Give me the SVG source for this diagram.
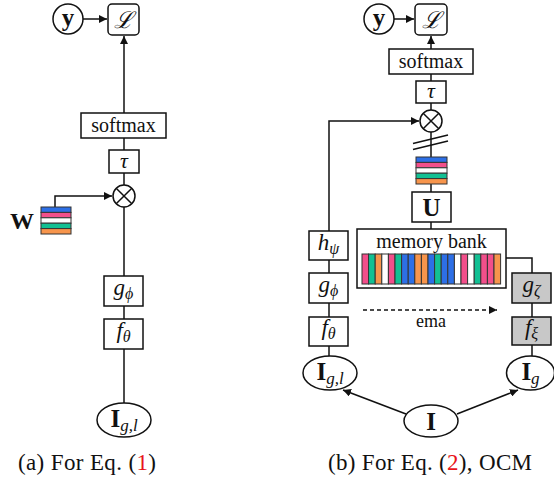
<svg xmlns="http://www.w3.org/2000/svg" width="554" height="477" viewBox="0 0 554 477">
<defs>
<marker id="ah" viewBox="0 0 10 10" refX="10" refY="5" markerWidth="8" markerHeight="8" markerUnits="userSpaceOnUse" orient="auto">
<path d="M0,0 L10,5 L0,10 z" fill="#111"/>
</marker>
</defs>
<style>
.b{fill:#fff;stroke:#111;stroke-width:1.5}
.g{fill:#c8c8c8;stroke:#111;stroke-width:1.5}
.l{fill:none;stroke:#111;stroke-width:1.5}
.t{font-family:'Liberation Serif','Times New Roman',serif;fill:#111;text-anchor:middle}
.i{font-style:italic}
.bd{font-weight:bold}
.s{stroke:#333;stroke-width:1}
.cb{fill:#2d6fe6}.cp{fill:#f24f8b}.cw{fill:#fff}.cg{fill:#12c093}.co{fill:#f7954c}
</style>

<g id="connectors">
<line class="l" x1="83" y1="19" x2="107" y2="19" marker-end="url(#ah)"/>
<line class="l" x1="124" y1="113" x2="124" y2="36" marker-end="url(#ah)"/>
<line class="l" x1="124" y1="138" x2="124" y2="150"/>
<line class="l" x1="124" y1="173" x2="124" y2="185"/>
<polyline class="l" points="55,207 55,196 112,196" marker-end="url(#ah)"/>
<line class="l" x1="124" y1="207" x2="124" y2="276"/>
<line class="l" x1="124" y1="306" x2="124" y2="319"/>
<line class="l" x1="124" y1="349" x2="124" y2="403"/>

<line class="l" x1="394" y1="19" x2="414" y2="19" marker-end="url(#ah)"/>
<line class="l" x1="431" y1="49" x2="431" y2="36" marker-end="url(#ah)"/>
<line class="l" x1="431" y1="74" x2="431" y2="81"/>
<line class="l" x1="431" y1="103" x2="431" y2="110"/>
<polyline class="l" points="329,231 329,121 419,121" marker-end="url(#ah)"/>
<line class="l" x1="431" y1="132" x2="431" y2="157"/>
<line class="l" x1="413" y1="143.5" x2="448" y2="135"/>
<line class="l" x1="413" y1="149.5" x2="448" y2="141"/>
<line class="l" x1="431" y1="184" x2="431" y2="192"/>
<line class="l" x1="431" y1="222" x2="431" y2="229"/>
<polyline class="l" points="506,258 532,258 532,273"/>
<line class="l" x1="532" y1="303" x2="532" y2="317"/>
<line class="l" x1="532" y1="345" x2="532" y2="356"/>
<line class="l" x1="329" y1="260" x2="329" y2="273"/>
<line class="l" x1="329" y1="303" x2="329" y2="317"/>
<line class="l" x1="329" y1="346" x2="329" y2="357"/>
<line class="l" x1="406" y1="414" x2="343" y2="390" marker-end="url(#ah)"/>
<line class="l" x1="457" y1="414" x2="518" y2="390" marker-end="url(#ah)"/>
<line class="l" x1="363" y1="310" x2="497" y2="310" stroke-dasharray="4,3" marker-end="url(#ah)"/>
</g>

<g id="a-y"><circle class="b" cx="68" cy="19" r="15"/><text class="t bd" x="68" y="26" font-size="25">y</text></g>
<g id="a-L"><rect class="b" x="108" y="4" width="31" height="31" rx="4"/><text class="t i" x="123.5" y="27.5" font-size="23">ℒ</text></g>
<g id="a-softmax"><rect class="b" x="81" y="113" width="85" height="25"/><text class="t" x="123.5" y="132" font-size="20">softmax</text></g>
<g id="a-tau"><rect class="b" x="109" y="150" width="30" height="23"/><text class="t i" x="124" y="167.5" font-size="22">τ</text></g>
<g id="a-otimes"><circle class="b" cx="124" cy="196" r="11"/><path class="l" d="M116.2,188.2 L131.8,203.8 M131.8,188.2 L116.2,203.8"/></g>
<g id="a-W">
<text class="t bd" x="22" y="228.5" font-size="24">W</text>
<rect class="cb s" x="41" y="207" width="30" height="5.4"/>
<rect class="cp s" x="41" y="212.4" width="30" height="5.4"/>
<rect class="cw s" x="41" y="217.8" width="30" height="5.4"/>
<rect class="cg s" x="41" y="223.2" width="30" height="5.4"/>
<rect class="co s" x="41" y="228.6" width="30" height="5.4"/>
</g>
<g id="a-g"><rect class="b" x="104" y="276" width="39" height="30"/><text class="t i" x="123.5" y="295" font-size="23">g<tspan font-size="16" dy="4">ϕ</tspan></text></g>
<g id="a-f"><rect class="b" x="104" y="319" width="39" height="30"/><text class="t i" x="123.5" y="338" font-size="23">f<tspan font-size="16" dy="4">θ</tspan></text></g>
<g id="a-I"><ellipse class="b" cx="124" cy="420" rx="27" ry="17"/><text class="t" x="124" y="427" font-size="25"><tspan class="bd">I</tspan><tspan class="i" font-size="17" dy="4">g,l</tspan></text></g>
<text class="t" x="87" y="470" font-size="23" textLength="138" lengthAdjust="spacing">(a) For Eq. (<tspan fill="#e8141a">1</tspan>)</text>

<g id="b-y"><circle class="b" cx="379" cy="19" r="15"/><text class="t bd" x="379" y="26" font-size="25">y</text></g>
<g id="b-L"><rect class="b" x="415" y="4" width="32" height="31" rx="4"/><text class="t i" x="431" y="27.5" font-size="23">ℒ</text></g>
<g id="b-softmax"><rect class="b" x="389" y="49" width="84" height="25"/><text class="t" x="431" y="68" font-size="20">softmax</text></g>
<g id="b-tau"><rect class="b" x="416" y="81" width="30" height="22"/><text class="t i" x="431" y="98" font-size="22">τ</text></g>
<g id="b-otimes"><circle class="b" cx="431" cy="121" r="11"/><path class="l" d="M423.2,113.2 L438.8,128.8 M438.8,113.2 L423.2,128.8"/></g>
<g id="b-emb">
<rect class="cb s" x="416" y="157" width="31" height="5.4"/>
<rect class="cp s" x="416" y="162.4" width="31" height="5.4"/>
<rect class="cw s" x="416" y="167.8" width="31" height="5.4"/>
<rect class="cg s" x="416" y="173.2" width="31" height="5.4"/>
<rect class="co s" x="416" y="178.6" width="31" height="5.4"/>
</g>
<g id="b-U"><rect class="b" x="412" y="192" width="39" height="30"/><text class="t bd" x="431.5" y="215.5" font-size="25">U</text></g>
<g id="b-memory">
<rect class="b" x="357" y="229" width="149" height="59"/>
<text class="t" x="431.5" y="248" font-size="20">memory bank</text>
<g stroke="#333" stroke-width="1">
<rect class="cp" x="362.0" y="254" width="6.6" height="30"/>
<rect class="cg" x="368.6" y="254" width="6.6" height="30"/>
<rect class="co" x="375.2" y="254" width="6.6" height="30"/>
<rect class="cw" x="381.8" y="254" width="6.6" height="30"/>
<rect class="cp" x="388.4" y="254" width="6.6" height="30"/>
<rect class="cg" x="395.0" y="254" width="6.6" height="30"/>
<rect class="cb" x="401.6" y="254" width="6.6" height="30"/>
<rect class="cb" x="408.2" y="254" width="6.6" height="30"/>
<rect class="co" x="414.8" y="254" width="6.6" height="30"/>
<rect class="co" x="421.4" y="254" width="6.6" height="30"/>
<rect class="cb" x="428.0" y="254" width="6.6" height="30"/>
<rect class="cg" x="434.6" y="254" width="6.6" height="30"/>
<rect class="cb" x="441.2" y="254" width="6.6" height="30"/>
<rect class="cb" x="447.8" y="254" width="6.6" height="30"/>
<rect class="cw" x="454.4" y="254" width="6.6" height="30"/>
<rect class="cp" x="461.0" y="254" width="6.6" height="30"/>
<rect class="cw" x="467.6" y="254" width="6.6" height="30"/>
<rect class="cg" x="474.2" y="254" width="6.6" height="30"/>
<rect class="cp" x="480.8" y="254" width="6.6" height="30"/>
<rect class="cp" x="487.4" y="254" width="6.6" height="30"/>
<rect class="co" x="494.0" y="254" width="6.6" height="30"/>
</g>
</g>
<g id="b-gz"><rect class="g" x="512" y="273" width="39" height="30"/><text class="t i" x="531.5" y="292" font-size="23">g<tspan font-size="16" dy="4">ζ</tspan></text></g>
<g id="b-fx"><rect class="g" x="512" y="317" width="39" height="28"/><text class="t i" x="531.5" y="335" font-size="23">f<tspan font-size="16" dy="4">ξ</tspan></text></g>
<g id="b-Ig"><ellipse class="b" cx="530.5" cy="373" rx="24" ry="17"/><text class="t" x="530.5" y="380" font-size="25"><tspan class="bd">I</tspan><tspan class="i" font-size="17" dy="4">g</tspan></text></g>
<g id="b-h"><rect class="b" x="309" y="231" width="39" height="29"/><text class="t i" x="328.5" y="250" font-size="23">h<tspan font-size="16" dy="4">ψ</tspan></text></g>
<g id="b-g"><rect class="b" x="309" y="273" width="39" height="30"/><text class="t i" x="328.5" y="292" font-size="23">g<tspan font-size="16" dy="4">ϕ</tspan></text></g>
<g id="b-f"><rect class="b" x="309" y="317" width="39" height="29"/><text class="t i" x="328.5" y="335" font-size="23">f<tspan font-size="16" dy="4">θ</tspan></text></g>
<g id="b-Igl"><ellipse class="b" cx="330" cy="373" rx="27" ry="17"/><text class="t" x="330" y="380" font-size="25"><tspan class="bd">I</tspan><tspan class="i" font-size="17" dy="4">g,l</tspan></text></g>
<g id="b-I"><ellipse class="b" cx="431" cy="421" rx="27" ry="16"/><text class="t bd" x="431" y="429.5" font-size="25">I</text></g>
<text class="t" x="431" y="327" font-size="18">ema</text>
<text class="t" x="430" y="470" font-size="23" textLength="204" lengthAdjust="spacing">(b) For Eq. (<tspan fill="#e8141a">2</tspan>), OCM</text>
</svg>
